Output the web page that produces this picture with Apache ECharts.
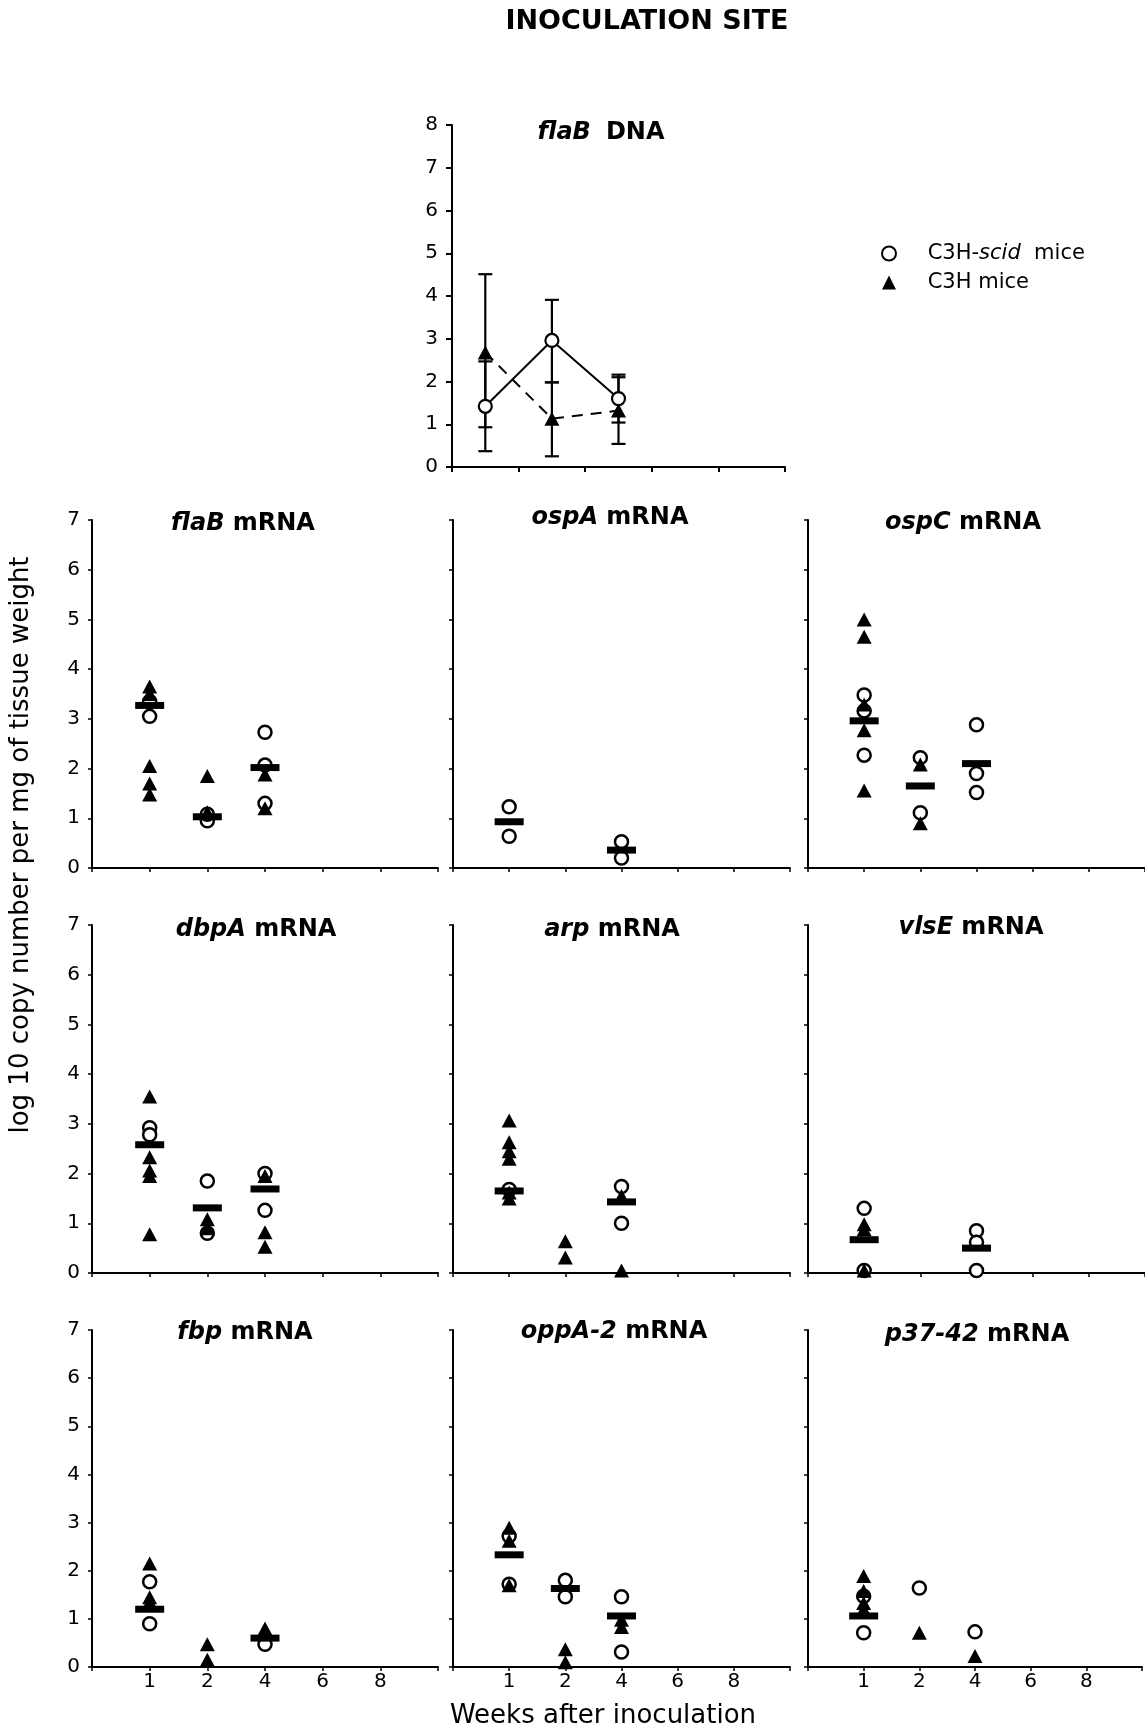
<!DOCTYPE html>
<html>
<head>
<meta charset="utf-8">
<title>Inoculation site</title>
<script src="https://cdn.jsdelivr.net/npm/echarts@6/dist/echarts.min.js"></script>
<style>
  html, body { margin: 0; padding: 0; background: #fff; }
  #chart { width: 1145px; height: 1731px; }
</style>
</head>
<body>
<div id="chart"></div>
<script>
// ---- tick labels ----
const weekLabels = ['1', '2', '4', '6', '8'];

// ---- flaB DNA (mean with error bars) ----
const dnaScidMean = [1.42, 2.96, 1.60];
const dnaScidLow  = [0.37, 1.98, 1.04];
const dnaScidHigh = [2.47, 3.91, 2.16];
const dnaC3hMean  = [2.68, 1.13, 1.32];
const dnaC3hLow   = [0.93, 0.25, 0.54];
const dnaC3hHigh  = [4.51, 1.98, 2.10];

// ---- mRNA panels: [week, log10 copies] ----
const flaBScid = [[1, 3.35], [1, 3.05], [2, 0.95], [2, 1.08], [4, 2.73], [4, 2.07], [4, 1.30]];
const flaBC3h  = [[1, 3.65], [1, 3.50], [1, 2.05], [1, 1.70], [1, 1.48], [2, 1.85], [2, 1.12], [4, 1.88], [4, 1.20]];
const flaBMean = [[1, 3.27], [2, 1.03], [4, 2.02]];

const ospAScid = [[1, 1.23], [1, 0.64], [4, 0.53], [4, 0.20]];
const ospAC3h  = [];
const ospAMean = [[1, 0.93], [4, 0.36]];

const ospCScid = [[1, 3.48], [1, 3.16], [1, 2.27], [2, 2.22], [2, 1.11], [4, 2.88], [4, 1.90], [4, 1.52]];
const ospCC3h  = [[1, 5.00], [1, 4.65], [1, 3.29], [1, 2.77], [1, 1.56], [2, 2.08], [2, 0.90]];
const ospCMean = [[1, 2.96], [2, 1.65], [4, 2.10]];

const dbpAScid = [[1, 2.92], [1, 2.78], [2, 1.85], [2, 0.80], [4, 2.00], [4, 1.26]];
const dbpAC3h  = [[1, 3.55], [1, 2.33], [1, 2.06], [1, 1.95], [1, 0.78], [2, 1.08], [2, 0.90], [4, 1.95], [4, 0.82], [4, 0.53]];
const dbpAMean = [[1, 2.58], [2, 1.31], [4, 1.69]];

const arpScid = [[1, 1.68], [4, 1.74], [4, 1.00]];
const arpC3h  = [[1, 3.07], [1, 2.63], [1, 2.45], [1, 2.30], [1, 1.62], [1, 1.50], [2, 0.64], [2, 0.31], [4, 1.55], [4, 0.05]];
const arpMean = [[1, 1.65], [4, 1.43]];

const vlsEScid = [[1, 1.30], [1, 0.05], [4, 0.85], [4, 0.62], [4, 0.05]];
const vlsEC3h  = [[1, 0.98], [1, 0.88], [1, 0.05]];
const vlsEMean = [[1, 0.67], [4, 0.50]];

const fbpScid = [[1, 1.77], [1, 0.90], [4, 0.47]];
const fbpC3h  = [[1, 2.15], [1, 1.45], [1, 1.35], [2, 0.47], [2, 0.15], [4, 0.80], [4, 0.72]];
const fbpMean = [[1, 1.20], [4, 0.60]];

const oppAScid = [[1, 2.72], [1, 1.72], [2, 1.80], [2, 1.46], [4, 1.46], [4, 0.31]];
const oppAC3h  = [[1, 2.89], [1, 2.62], [1, 1.70], [2, 0.37], [2, 0.10], [4, 0.98], [4, 0.83]];
const oppAMean = [[1, 2.33], [2, 1.63], [4, 1.06]];

const p37Scid = [[1, 1.47], [1, 0.71], [2, 1.64], [4, 0.73]];
const p37C3h  = [[1, 1.89], [1, 1.58], [1, 1.33], [1, 1.20], [2, 0.71], [4, 0.23]];
const p37Mean = [[1, 1.06]];

const geneNames = ['flaB', 'ospA', 'ospC', 'dbpA', 'arp', 'vlsE', 'fbp', 'oppA-2', 'p37-42'];
const scidSets = [flaBScid, ospAScid, ospCScid, dbpAScid, arpScid, vlsEScid, fbpScid, oppAScid, p37Scid];
const c3hSets  = [flaBC3h, ospAC3h, ospCC3h, dbpAC3h, arpC3h, vlsEC3h, fbpC3h, oppAC3h, p37C3h];
const meanSets = [flaBMean, ospAMean, ospCMean, dbpAMean, arpMean, vlsEMean, fbpMean, oppAMean, p37Mean];

// ---- layout ----
const FONT = 'DejaVu Sans';
const colLeft  = [92, 453, 808];
const colWidth = [346, 337, 337];
const rowTop    = [520, 925, 1330];
const rowHeight = [348, 348, 337];
const titlePos = [[243, 524], [610, 518], [963, 523], [256, 930], [612, 930], [971, 928], [245, 1333], [614, 1332], [977, 1335]];

// week -> position on the panel x axis (1..5)
const weekPos = w => weekLabels.indexOf(String(w)) + 1;
const toXY = set => set.map(d => [weekPos(d[0]), d[1]]);

const grids = [{ left: 452, top: 125, width: 333, height: 342 }];
const xAxes = [{
  gridIndex: 0, type: 'category', data: weekLabels, boundaryGap: true,
  axisLine: { lineStyle: { color: '#000', width: 2 } },
  axisTick: { show: true, length: 5, lineStyle: { color: '#000', width: 2 } },
  axisLabel: { show: false }, splitLine: { show: false }
}];
const yAxes = [{
  gridIndex: 0, type: 'value', min: 0, max: 8, interval: 1,
  axisLine: { show: true, lineStyle: { color: '#000', width: 2 } },
  axisTick: { show: true, length: 6, lineStyle: { color: '#000', width: 2 } },
  axisLabel: { color: '#000', fontSize: 20, fontFamily: FONT, margin: 14 },
  splitLine: { show: false }
}];

const series = [];

// error bars for the DNA panel
const errData = [];
dnaScidMean.forEach((m, i) => errData.push([i, dnaScidLow[i], dnaScidHigh[i]]));
dnaC3hMean.forEach((m, i) => errData.push([i, dnaC3hLow[i], dnaC3hHigh[i]]));
series.push({
  type: 'custom', xAxisIndex: 0, yAxisIndex: 0, data: errData, z: 2,
  encode: { x: 0, y: [1, 2] },
  renderItem: (params, api) => {
    const lo = api.coord([api.value(0), api.value(1)]);
    const hi = api.coord([api.value(0), api.value(2)]);
    const cap = 7;
    const st = { stroke: '#000', lineWidth: 2.2 };
    return {
      type: 'group', children: [
        { type: 'line', shape: { x1: lo[0], y1: lo[1], x2: hi[0], y2: hi[1] }, style: st },
        { type: 'line', shape: { x1: lo[0] - cap, y1: lo[1], x2: lo[0] + cap, y2: lo[1] }, style: st },
        { type: 'line', shape: { x1: hi[0] - cap, y1: hi[1], x2: hi[0] + cap, y2: hi[1] }, style: st }
      ]
    };
  }
});
series.push({
  name: 'C3H-scid mice', type: 'line', xAxisIndex: 0, yAxisIndex: 0, data: dnaScidMean, z: 4,
  symbol: 'circle', symbolSize: 13,
  itemStyle: { color: '#fff', borderColor: '#000', borderWidth: 2.2, opacity: 1 },
  lineStyle: { color: '#000', width: 2 }
});
series.push({
  name: 'C3H mice', type: 'line', xAxisIndex: 0, yAxisIndex: 0, data: dnaC3hMean, z: 3,
  symbol: 'triangle', symbolSize: [15, 14],
  itemStyle: { color: '#000', opacity: 1 },
  lineStyle: { color: '#000', width: 2, type: [11, 8] }
});

// mRNA scatter panels
geneNames.forEach((g, i) => {
  const r = Math.floor(i / 3), c = i % 3, gi = i + 1;
  grids.push({ left: colLeft[c], top: rowTop[r], width: colWidth[c], height: rowHeight[r] });
  xAxes.push({
    gridIndex: gi, type: 'value', min: 0, max: 6, interval: 1,
    axisLine: { lineStyle: { color: '#000', width: 2 } },
    axisTick: { show: true, length: 4, lineStyle: { color: '#000', width: 1.5 } },
    axisLabel: {
      show: r === 2, color: '#000', fontSize: 20, fontFamily: FONT, margin: 5,
      formatter: v => (v >= 1 && v <= weekLabels.length) ? weekLabels[v - 1] : ''
    },
    splitLine: { show: false }
  });
  yAxes.push({
    gridIndex: gi, type: 'value', min: 0, max: 7, interval: 1,
    axisLine: { show: true, lineStyle: { color: '#000', width: 2 } },
    axisTick: { show: true, length: 4, lineStyle: { color: '#000', width: 1.5 } },
    axisLabel: { show: c === 0, color: '#000', fontSize: 20, fontFamily: FONT, margin: 12 },
    splitLine: { show: false }
  });
  series.push({
    type: 'scatter', xAxisIndex: gi, yAxisIndex: gi, data: toXY(scidSets[i]), z: 3,
    symbol: 'circle', symbolSize: 13,
    itemStyle: { color: '#fff', borderColor: '#000', borderWidth: 2.5, opacity: 1 }
  });
  series.push({
    type: 'scatter', xAxisIndex: gi, yAxisIndex: gi, data: toXY(c3hSets[i]), z: 4,
    symbol: 'triangle', symbolSize: [15, 14],
    itemStyle: { color: '#000', opacity: 1 }
  });
  series.push({
    type: 'scatter', xAxisIndex: gi, yAxisIndex: gi, data: toXY(meanSets[i]), z: 5,
    symbol: 'rect', symbolSize: [29, 7],
    itemStyle: { color: '#000', opacity: 1 }
  });
});

const titleRich = {
  i: { fontFamily: FONT, fontSize: 24, fontWeight: 'bold', fontStyle: 'italic', fill: '#000', padding: [0, 5, 0, 0] },
  b: { fontFamily: FONT, fontSize: 24, fontWeight: 'bold', fill: '#000' }
};
const graphics = [
  { type: 'text', x: 647, y: 22, style: { text: 'INOCULATION SITE', font: 'bold 27px "DejaVu Sans"', fill: '#000', align: 'center', verticalAlign: 'middle' } },
  { type: 'text', x: 601, y: 133, style: { text: '{i|flaB}   {b|DNA}', rich: titleRich, align: 'center', verticalAlign: 'middle' } },
  { type: 'text', x: 603, y: 1716, style: { text: 'Weeks after inoculation', font: '26px "DejaVu Sans"', fill: '#000', align: 'center', verticalAlign: 'middle' } },
  { type: 'text', x: 21, y: 845, rotation: Math.PI / 2, style: { text: 'log 10 copy number per mg of tissue weight', font: '26px "DejaVu Sans"', fill: '#000', align: 'center', verticalAlign: 'middle' } }
];
geneNames.forEach((g, i) => {
  graphics.push({
    type: 'text', x: titlePos[i][0], y: titlePos[i][1],
    style: { text: '{i|' + g + '} {b|mRNA}', rich: titleRich, align: 'center', verticalAlign: 'middle' }
  });
});

const chart = echarts.init(document.getElementById('chart'), null, { renderer: 'canvas' });
chart.setOption({
  animation: false,
  backgroundColor: '#fff',
  grid: grids,
  xAxis: xAxes,
  yAxis: yAxes,
  series: series,
  graphic: graphics,
  legend: {
    orient: 'vertical', left: 876, top: 238, itemWidth: 14, itemHeight: 14, itemGap: 8,
    selectedMode: false,
    data: [
      { name: 'C3H-scid mice', icon: 'circle', itemStyle: { color: '#fff', borderColor: '#000', borderWidth: 2 } },
      { name: 'C3H mice', icon: 'triangle', itemStyle: { color: '#000', borderWidth: 0 } }
    ],
    formatter: name => name === 'C3H-scid mice' ? '{n|    C3H-}{i|scid}{n|  mice}' : '{n|    C3H mice}',
    textStyle: {
      color: '#000', fontFamily: FONT, fontSize: 21,
      rich: {
        n: { fontFamily: FONT, fontSize: 21, lineHeight: 24, color: '#000' },
        i: { fontFamily: FONT, fontSize: 21, lineHeight: 24, fontStyle: 'italic', color: '#000' }
      }
    }
  }
});
</script>
</body>
</html>
